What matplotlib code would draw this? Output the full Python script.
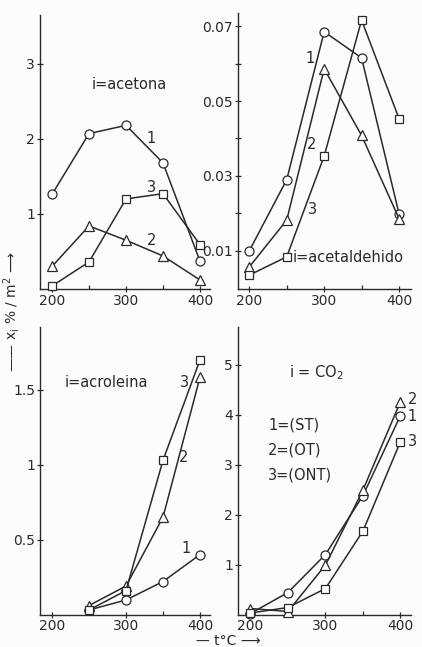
import matplotlib
matplotlib.use("Agg")
import matplotlib.pyplot as plt
from matplotlib.ticker import FixedLocator, NullFormatter

plt.rcParams['font.family'] = ['DejaVu Sans']

# Temperatures (°C)
t_all = [200, 250, 300, 350, 400]
t_acr = [250, 300, 350, 400]

# Acetone
acetona_1 = [1.26, 2.07, 2.18, 1.68, 0.37]
acetona_2 = [0.30, 0.84, 0.65, 0.44, 0.12]
acetona_3 = [0.04, 0.36, 1.20, 1.27, 0.59]

# Acetaldehyde
acetald_1 = [0.0100, 0.0290, 0.0685, 0.0615, 0.0199]
acetald_2 = [0.0057, 0.0182, 0.0586, 0.0408, 0.0186]
acetald_3 = [0.0035, 0.0084, 0.0353, 0.0716, 0.0453]

# Acrolein
acrol_1 = [0.03, 0.097, 0.22, 0.40]
acrol_2 = [0.06, 0.19, 0.65, 1.585]
acrol_3 = [0.03, 0.16, 1.03, 1.70]

# CO2
co2_1 = [0.02, 0.44, 1.20, 2.38, 3.98]
co2_2 = [0.12, 0.06, 0.99, 2.49, 4.26]
co2_3 = [0.03, 0.14, 0.52, 1.67, 3.46]

W, H = 422, 647
INK = '#2a2a2a'
fig = plt.figure(figsize=(W / 100, H / 100), dpi=100)
fig.patch.set_facecolor('#fcfcfb')


def make_axes(l, r, b, t):
    ax = fig.add_axes([l / W, (H - b) / H, (r - l) / W, (b - t) / H])
    ax.set_facecolor('none')
    for s in ('top', 'right'):
        ax.spines[s].set_visible(False)
    for s in ('left', 'bottom'):
        ax.spines[s].set_color(INK)
        ax.spines[s].set_linewidth(1.0)
    ax.tick_params(which='major', direction='inout', length=5, width=0.9,
                   colors=INK, labelsize=10, pad=1)
    ax.tick_params(which='minor', direction='in', length=3, width=0.9, colors=INK)
    ax.set_xticks([200, 300, 400])
    ax.xaxis.set_minor_locator(FixedLocator([250, 350]))
    ax.xaxis.set_minor_formatter(NullFormatter())
    return ax


def series(ax, x, y, marker):
    ax.plot(x, y, color=INK, lw=1.1, marker=marker, ms=6.5 if marker != 's' else 6,
            mfc='white', mec=INK, mew=0.9, clip_on=False, zorder=3)


def lab(ax, x, y, s, ha='center'):
    ax.text(x, y, s, fontsize=10.5, color=INK, ha=ha, va='center',
            clip_on=False)


# Acetone
ax1 = make_axes(40, 210, 289, 15)
ax1.set_xlim(183.8, 413.5)
ax1.set_ylim(0, 3.65)
ax1.set_yticks([1, 2, 3])
ax1.set_yticklabels(['1', '2', '3'])
series(ax1, t_all, acetona_1, 'o')
series(ax1, t_all, acetona_2, '^')
series(ax1, t_all, acetona_3, 's')
lab(ax1, 334, 2.01, '1')
lab(ax1, 334, 1.35, '3')
lab(ax1, 335, 0.64, '2')
lab(ax1, 305, 2.73, 'i=acetona')

# Acetaldehyde
ax2 = make_axes(237.7, 411, 289, 13)
ax2.set_xlim(184.5, 416)
ax2.set_ylim(-0.0002, 0.0735)
ax2.set_yticks([0.01, 0.03, 0.05, 0.07])
ax2.set_yticklabels(['0.01', '0.03', '0.05', '0.07'])
ax2.yaxis.set_minor_locator(FixedLocator([0.02, 0.04, 0.06]))
ax2.yaxis.set_minor_formatter(NullFormatter())
ax2.tick_params(axis='y', which='minor', direction='inout', length=5)
series(ax2, t_all, acetald_1, 'o')
series(ax2, t_all, acetald_2, '^')
series(ax2, t_all, acetald_3, 's')
lab(ax2, 281, 0.0614, '1')
lab(ax2, 282.6, 0.0384, '2')
lab(ax2, 284, 0.0211, '3')
lab(ax2, 258, 0.0082, 'i=acetaldehido', ha='left')

# Acrolein
ax3 = make_axes(40, 210, 614.5, 327)
ax3.set_xlim(183.8, 413.5)
ax3.set_ylim(0, 1.92)
ax3.set_yticks([0.5, 1, 1.5])
ax3.set_yticklabels(['0.5', '1', '1.5'])
series(ax3, t_acr, acrol_1, 'o')
series(ax3, t_acr, acrol_2, '^')
series(ax3, t_acr, acrol_3, 's')
lab(ax3, 378.4, 1.55, '3')
lab(ax3, 378.4, 1.05, '2')
lab(ax3, 381, 0.44, '1')
lab(ax3, 274, 1.55, 'i=acroleina')

# CO2
ax4 = make_axes(237.7, 411, 614.5, 327)
ax4.set_xlim(183, 414)
ax4.set_ylim(0, 5.75)
ax4.set_yticks([1, 2, 3, 4, 5])
ax4.set_yticklabels(['1', '2', '3', '4', '5'])
series(ax4, t_all, co2_1, 'o')
series(ax4, t_all, co2_2, '^')
series(ax4, t_all, co2_3, 's')
lab(ax4, 416, 4.29, '2')
lab(ax4, 416, 3.96, '1')
lab(ax4, 416, 3.46, '3')
lab(ax4, 288.5, 4.83, 'i = CO$_2$')
for yy, s in [(3.79, '1=(ST)'), (3.29, '2=(OT)'), (2.79, '3=(ONT)')]:
    lab(ax4, 223.5, yy, s, ha='left')

# Shared axis titles
fig.text(12 / W, 1 - 312 / H, '—— x$_\\mathregular{i}$ % / m$^2$ ⟶', rotation=90,
         ha='center', va='center', fontsize=10, color=INK)
fig.text(228 / W, 1 - 641 / H, '— t°C ⟶', ha='center', va='center',
         fontsize=10, color=INK)

fig.savefig('out.png', dpi=100, facecolor=fig.get_facecolor())
